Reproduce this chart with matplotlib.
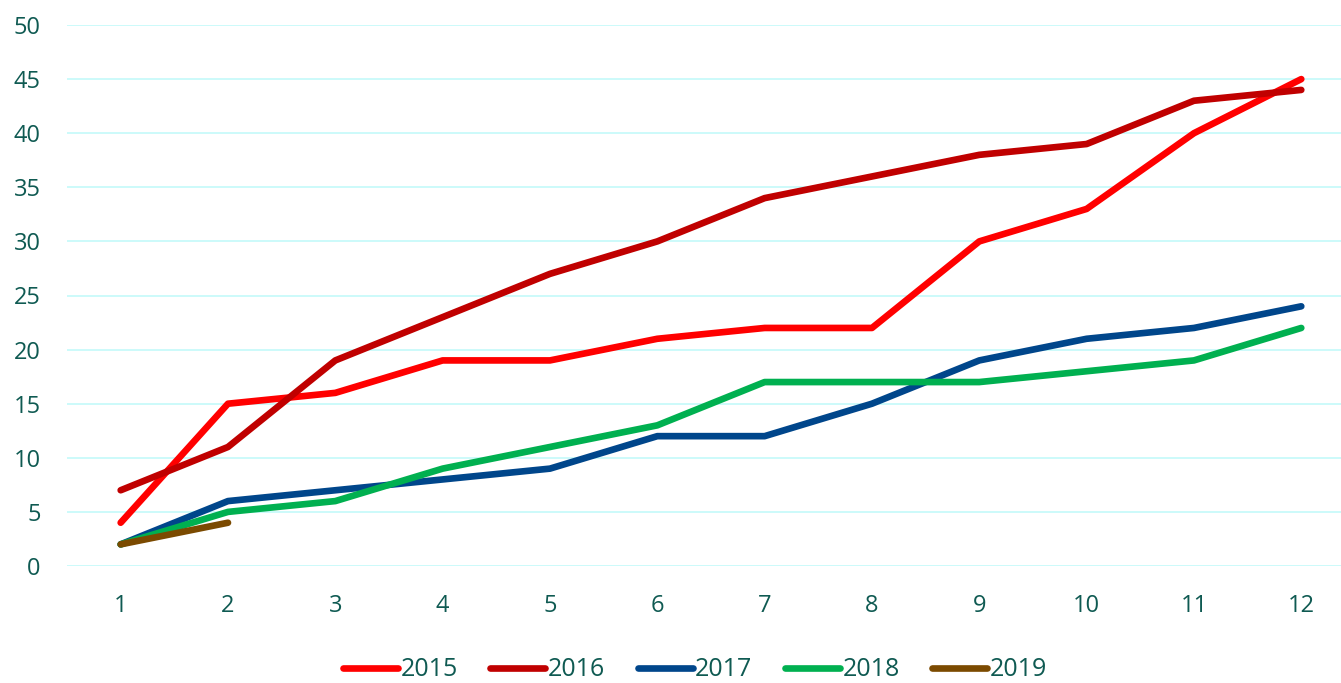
import matplotlib
matplotlib.use("Agg")
import matplotlib.pyplot as plt

months = [1, 2, 3, 4, 5, 6, 7, 8, 9, 10, 11, 12]
y2015 = [4, 15, 16, 19, 19, 21, 22, 22, 30, 33, 40, 45]
y2016 = [7, 11, 19, 23, 27, 30, 34, 36, 38, 39, 43, 44]
y2017 = [2, 6, 7, 8, 9, 12, 12, 15, 19, 21, 22, 24]
y2018 = [2, 5, 6, 9, 11, 13, 17, 17, 17, 18, 19, 22]
y2019 = [2, 4]
labels = ["2015", "2016", "2017", "2018", "2019"]
colors = ["#FF0000", "#C00000", "#00468B", "#00B050", "#7B4A00"]

txt = "#0F5A52"
plt.rcParams['font.family'] = ['Open Sans', 'DejaVu Sans']

fig = plt.figure(figsize=(13.41, 6.83), dpi=100)
ax = fig.add_axes([67/1341, 1-566/683, 1-67/1341, (566-25)/683])

series = [y2015, y2016, y2017, y2018, y2019]
for s, lab, c in zip(series, labels, colors):
    ax.plot(months[:len(s)], s, color=c, lw=4.8, label=lab,
            solid_capstyle='round', solid_joinstyle='round', clip_on=False, zorder=3)

ax.set_xlim(0.5, 12.37)
ax.set_ylim(0, 50)
ax.set_yticks(range(0, 51, 5))
ax.set_xticks(months)
ax.grid(axis='y', color='#C8FAFA', lw=1.3)
ax.set_axisbelow(True)
for sp in ax.spines.values():
    sp.set_visible(False)
ax.tick_params(length=0, labelsize=17, colors=txt)
ax.tick_params(axis='x', pad=20)
ax.tick_params(axis='y', pad=19)

leg = ax.legend(loc='center', bbox_to_anchor=(0.5 - 67/1341/2 + 0.018, (566-670)/541),
                ncol=5, frameon=False, fontsize=18, handlelength=2.2,
                handletextpad=0.1, columnspacing=1.3)
for t in leg.get_texts():
    t.set_color(txt)

fig.savefig("out.png", dpi=100)
